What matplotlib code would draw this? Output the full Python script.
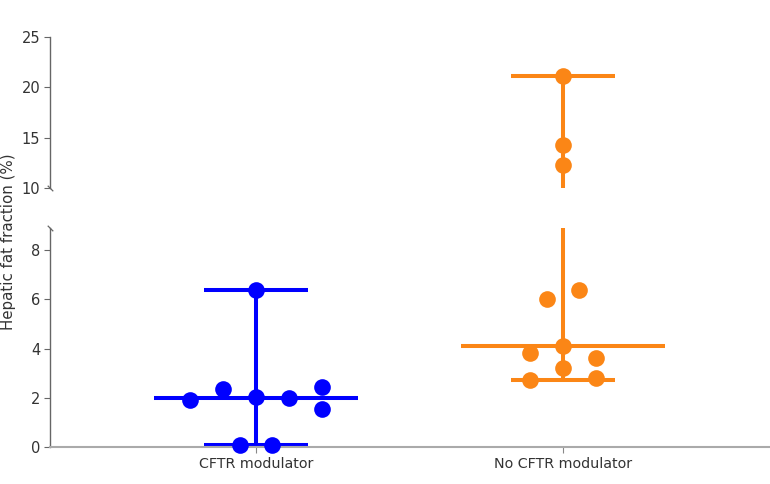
import matplotlib
matplotlib.use("Agg")
import matplotlib.pyplot as plt
import numpy as np

categories = ["CFTR modulator", "No CFTR modulator"]
cftr_values = [6.38, 2.36, 2.03, 2.0, 2.44, 1.91, 1.54, 0.08, 0.08]
cftr_slots = [0, -1, 0, 1, 2, -2, 2, -0.5, 0.5]
no_cftr_values = [21.15, 14.3, 12.25, 6.02, 6.38, 4.1, 3.82, 3.62, 3.21, 2.72, 2.8]
no_cftr_slots = [0, 0, 0, -0.5, 0.5, 0, -1, 1, 0, -1, 1]
lower_ticks = [0, 2, 4, 6, 8]
upper_ticks = [10, 15, 20, 25]

colors = ["#0000ff", "#fb8616"]
series = [(cftr_values, cftr_slots), (no_cftr_values, no_cftr_slots)]

W, H = 770, 484
fig = plt.figure(figsize=(W / 100, H / 100), dpi=100)
left = 50 / W
width = 720 / W
ax_up = fig.add_axes([left, 1 - 188 / H, width, 151 / H])
ax_lo = fig.add_axes([left, 1 - 447 / H, width, 219 / H])

slot_w = 0.107
lw = 2.9
ms = 12
for i, ((vals, slots), c) in enumerate(zip(series, colors)):
    vals = np.array(vals)
    med = np.median(vals)
    lo, hi = vals.min(), vals.max()
    for ax, ylim in ((ax_up, (10, 25)), (ax_lo, (0, 8.9))):
        ax.plot([i, i], [lo, hi], color=c, lw=lw, solid_capstyle="butt", zorder=2)
        ax.plot([i - 0.333, i + 0.333], [med, med], color=c, lw=lw, solid_capstyle="butt", zorder=2)
        ax.plot([i - 0.168, i + 0.168], [lo, lo], color=c, lw=lw, solid_capstyle="butt", zorder=2)
        ax.plot([i - 0.168, i + 0.168], [hi, hi], color=c, lw=lw, solid_capstyle="butt", zorder=2)
        sel = (vals >= ylim[0]) & (vals <= ylim[1])
        ax.plot(i + np.array(slots)[sel] * slot_w, vals[sel], "o", color=c, ms=ms, mec="none",
                zorder=4, clip_on=False)

xl = (-0.671, 1.674)
for ax in (ax_up, ax_lo):
    ax.set_xlim(*xl)
    for s in ("top", "right"):
        ax.spines[s].set_visible(False)
    ax.spines["left"].set_color("#666666")
    ax.spines["left"].set_linewidth(1.0)
    ax.tick_params(axis="y", length=4, width=0.8, color="#666666", labelsize=10.5,
                   labelcolor="#333333", pad=3)

ax_up.set_ylim(10, 25)
ax_up.set_yticks(upper_ticks)
ax_up.spines["bottom"].set_visible(False)
ax_up.set_xticks([])

ax_lo.set_ylim(0, 8.9)
ax_lo.set_yticks(lower_ticks)
ax_lo.spines["bottom"].set_color("#aaaaaa")
ax_lo.spines["bottom"].set_linewidth(1.5)
ax_lo.set_xticks([0, 1])
ax_lo.set_xticklabels(categories)
ax_lo.tick_params(axis="x", length=4, width=0.8, color="#888888", labelsize=10.3,
                  labelcolor="#333333", pad=3)

# break marks
mk = [(-1, 1), (1, -1)]
ax_up.plot([0], [0], transform=ax_up.transAxes, marker=mk, ms=4, mew=0.9,
           color="#666666", clip_on=False, linestyle="none")
ax_lo.plot([0], [1], transform=ax_lo.transAxes, marker=mk, ms=4, mew=0.9,
           color="#666666", clip_on=False, linestyle="none")

fig.text(0.011, 0.5, "Hepatic fat fraction (%)", rotation=90, va="center", ha="center",
         fontsize=10.8, color="#333333")

fig.savefig("out.png", dpi=100)
